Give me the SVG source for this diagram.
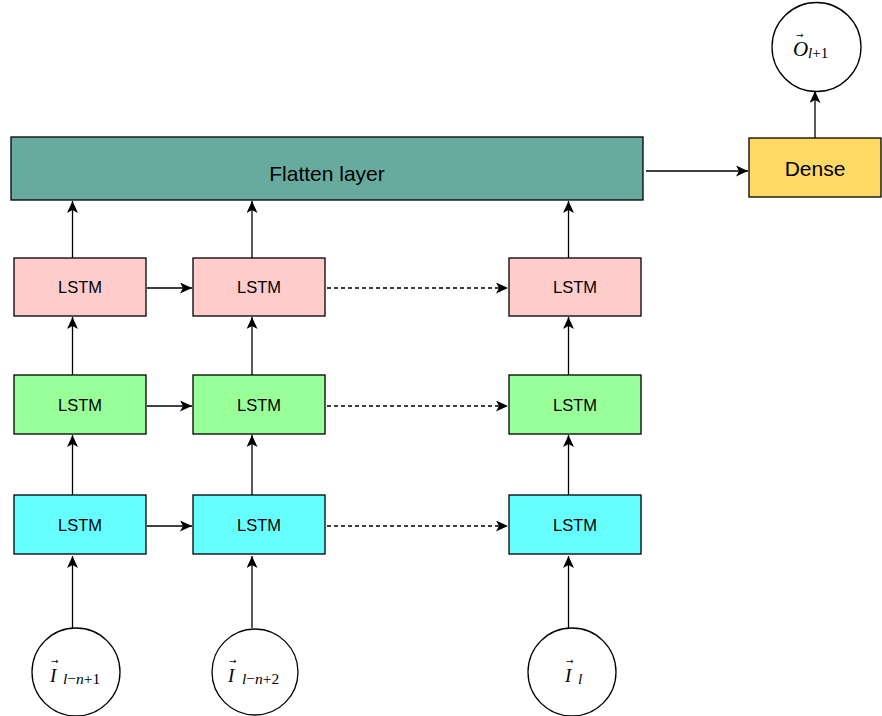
<svg xmlns="http://www.w3.org/2000/svg" width="882" height="716" viewBox="0 0 882 716">
<defs>
<style>
.box{stroke:#000;stroke-width:1.3}
.lbl{font-family:"Liberation Sans",Arial,sans-serif;fill:#000;text-anchor:middle;dominant-baseline:central}
.lstm{font-size:16.5px}
.c{fill:#fff;stroke:#000;stroke-width:1.3}
.m{font-family:"Liberation Serif","Times New Roman",serif;font-style:italic;fill:#000}
.vec{font-family:"DejaVu Sans",sans-serif;font-size:9px;font-style:normal}
.up{font-style:normal}
.e{stroke:#000;stroke-width:1.3;fill:none;marker-end:url(#ah)}
.d{stroke-dasharray:4 3}
</style>
<marker id="ah" markerUnits="userSpaceOnUse" markerWidth="13" markerHeight="12" refX="12" refY="5.5" orient="auto">
<path d="M0,0 L12,5.5 L0,11 L3,5.5 z" fill="#000"/>
</marker>
</defs>
<g id="edges">
<path class="e" d="M646,171 L748,171"/>
<path class="e" d="M815,138 L815,91"/>
<path class="e" d="M72.5,628 L72.5,556"/>
<path class="e" d="M252,628 L252,556"/>
<path class="e" d="M568.5,628 L568.5,556"/>
<path class="e" d="M72.5,495 L72.5,435"/>
<path class="e" d="M252,495 L252,435"/>
<path class="e" d="M568.5,495 L568.5,435"/>
<path class="e" d="M72.5,375 L72.5,317"/>
<path class="e" d="M252,375 L252,317"/>
<path class="e" d="M568.5,375 L568.5,317"/>
<path class="e" d="M72.5,258 L72.5,201"/>
<path class="e" d="M252,258 L252,201"/>
<path class="e" d="M568.5,258 L568.5,201"/>
<path class="e" d="M147,288 L192,288"/>
<path class="e" d="M147,406 L192,406"/>
<path class="e" d="M147,526 L192,526"/>
<path class="e d" d="M327,288 L508,288"/>
<path class="e d" d="M327,406 L508,406"/>
<path class="e d" d="M327,526 L508,526"/>
</g>
<g id="flatten"><rect class="box" x="11" y="137" width="632" height="63" fill="#67AB9F"/><text class="lbl" x="327" y="173" font-size="21">Flatten layer</text></g>
<g id="dense"><rect class="box" x="749" y="138" width="132" height="59" fill="#FFD966"/><text class="lbl" x="815" y="168" font-size="21">Dense</text></g>
<g id="out"><circle class="c" cx="816.5" cy="47" r="44.5"/><text class="m"><tspan class="vec" x="796" y="38">→</tspan><tspan x="793" y="56" font-size="21">O</tspan><tspan x="808" y="58" font-size="15">l<tspan class="up">+1</tspan></tspan></text></g>
<g id="p1"><rect class="box" x="14" y="258" width="132" height="58" fill="#FFCCCC"/><text class="lbl lstm" x="80" y="287">LSTM</text></g>
<g id="p2"><rect class="box" x="193" y="258" width="132" height="58" fill="#FFCCCC"/><text class="lbl lstm" x="259" y="287">LSTM</text></g>
<g id="p3"><rect class="box" x="509" y="258" width="132" height="58" fill="#FFCCCC"/><text class="lbl lstm" x="575" y="287">LSTM</text></g>
<g id="g1"><rect class="box" x="14" y="375" width="132" height="59" fill="#99FF99"/><text class="lbl lstm" x="80" y="404.5">LSTM</text></g>
<g id="g2"><rect class="box" x="193" y="375" width="132" height="59" fill="#99FF99"/><text class="lbl lstm" x="259" y="404.5">LSTM</text></g>
<g id="g3"><rect class="box" x="509" y="375" width="132" height="59" fill="#99FF99"/><text class="lbl lstm" x="575" y="404.5">LSTM</text></g>
<g id="b1"><rect class="box" x="14" y="495" width="132" height="59" fill="#66FFFF"/><text class="lbl lstm" x="80" y="524.5">LSTM</text></g>
<g id="b2"><rect class="box" x="193" y="495" width="132" height="59" fill="#66FFFF"/><text class="lbl lstm" x="259" y="524.5">LSTM</text></g>
<g id="b3"><rect class="box" x="509" y="495" width="132" height="59" fill="#66FFFF"/><text class="lbl lstm" x="575" y="524.5">LSTM</text></g>
<g id="i1"><circle class="c" cx="76" cy="672" r="44"/><text class="m"><tspan class="vec" x="51" y="664">→</tspan><tspan x="50" y="682" font-size="19">I</tspan><tspan x="63" y="684" font-size="15.5">l<tspan class="up">−</tspan>n<tspan class="up">+1</tspan></tspan></text></g>
<g id="i2"><circle class="c" cx="255" cy="672" r="43"/><text class="m"><tspan class="vec" x="229" y="664">→</tspan><tspan x="228" y="682" font-size="19">I</tspan><tspan x="242" y="684" font-size="15.5">l<tspan class="up">−</tspan>n<tspan class="up">+2</tspan></tspan></text></g>
<g id="i3"><circle class="c" cx="572" cy="672" r="44"/><text class="m"><tspan class="vec" x="566" y="664">→</tspan><tspan x="565" y="682" font-size="19">I</tspan><tspan x="578" y="684" font-size="15.5">l</tspan></text></g>
</svg>
